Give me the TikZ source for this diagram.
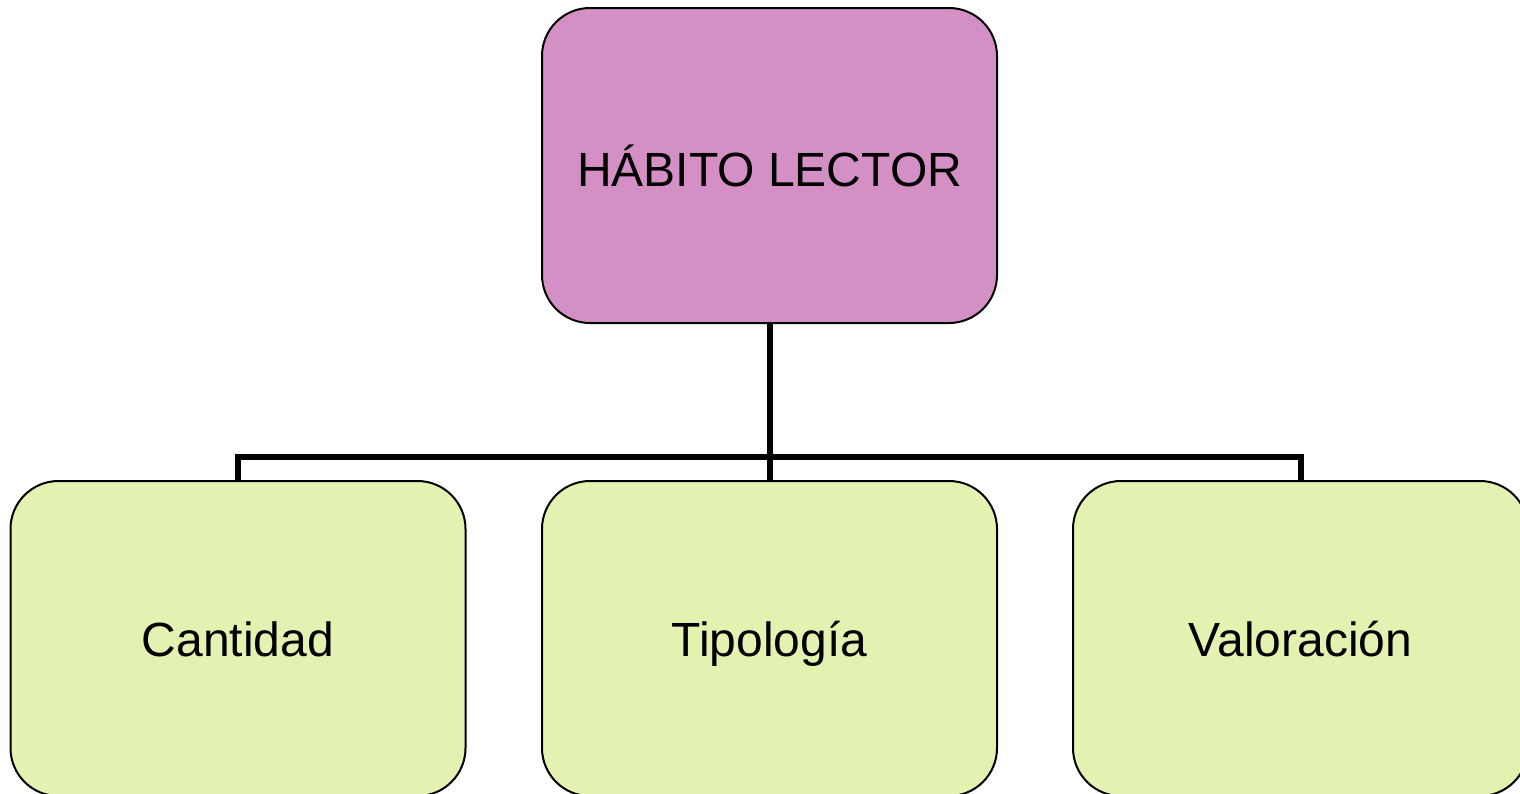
\documentclass[tikz,border=0pt]{standalone}
\usepackage{fontspec}
\setmainfont{Liberation Sans}
\definecolor{pinkfill}{HTML}{D48FC4}
\definecolor{greenfill}{HTML}{E3F2B0}
\begin{document}
\begin{tikzpicture}[x=1pt,y=1pt,
  box/.style={draw=black, line width=2pt, rounded corners=48pt, minimum width=455pt, minimum height=315pt, inner sep=0pt, font=\fontsize{48}{56}\selectfont},
  leaf/.style={box, fill=greenfill, text height=35pt, text depth=0pt},
  conn/.style={draw=black, line width=6pt, line join=miter}]
\useasboundingbox (0,0) rectangle (1520,-793);
\node[box, fill=pinkfill] (top) at (769.5,-165.5) {HÁBITO LECTOR};
\node[leaf] (left) at (238,-638.5) {Cantidad};
\node[leaf] (mid) at (769.5,-638.5) {Tipología};
\node[leaf] (right) at (1300.5,-638.5) {Valoración};
\coordinate (bar) at (769.5,-457);
\draw[conn] (top.south) -- (mid.north);
\draw[conn] (left.north) -- (left.north |- bar) -- (right.north |- bar) -- (right.north);
\end{tikzpicture}
\end{document}
